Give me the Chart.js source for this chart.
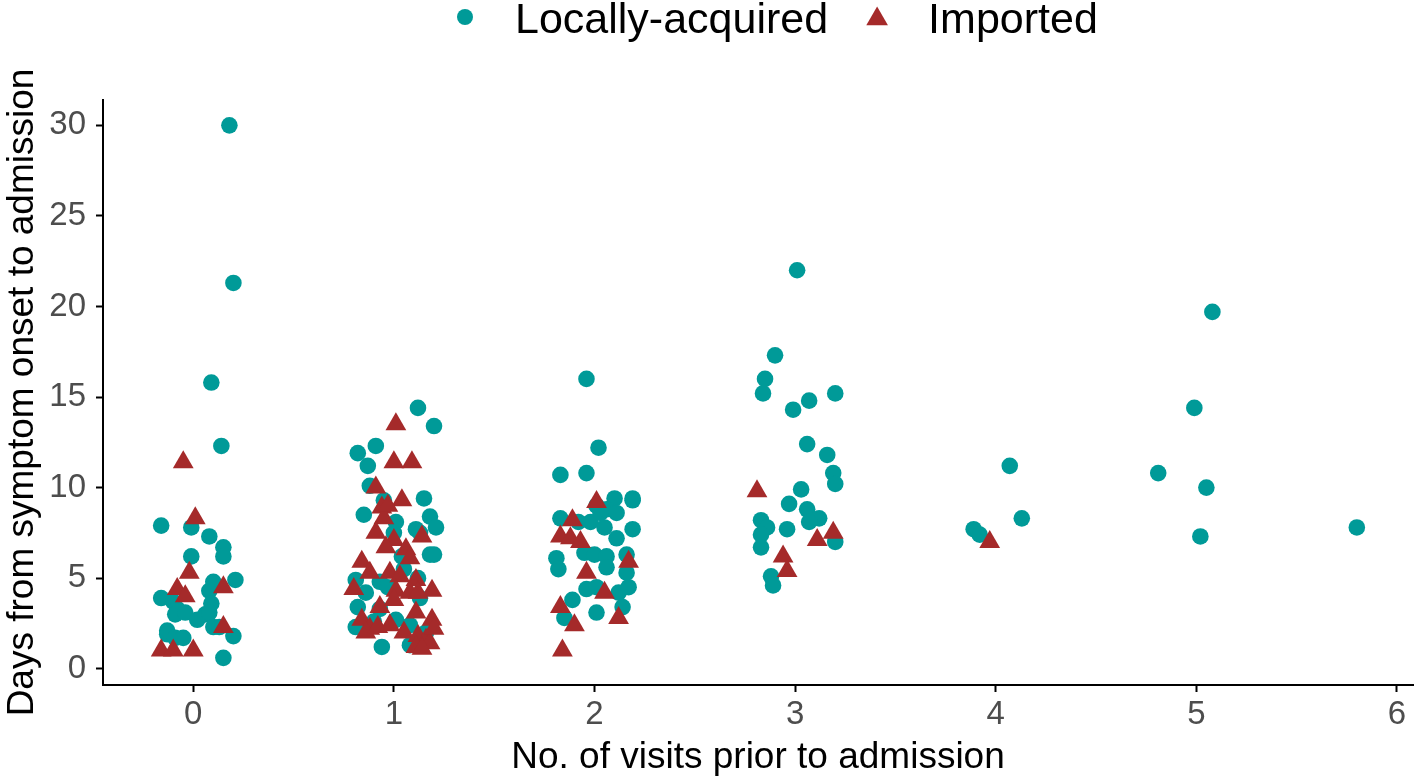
<!DOCTYPE html>
<html>
<head>
<meta charset="utf-8">
<script src="https://cdn.jsdelivr.net/npm/chart.js@4.4.1/dist/chart.umd.min.js"></script>
<style>
  html, body { margin: 0; padding: 0; background: #fff; }
  #wrap { width: 1416px; height: 780px; }
</style>
</head>
<body>
<div id="wrap"><canvas id="chart" width="1416" height="780"></canvas></div>
<script>
// series labels + tick labels
const seriesNames = ['Locally-acquired', 'Imported'];
const xTicks = [0, 1, 2, 3, 4, 5, 6];
const yTicks = [0, 5, 10, 15, 20, 25, 30];

// Locally-acquired: jittered visit count, days from onset
const localX = [
  0.18, 0.20, 0.09, 0.14, -0.16, -0.01, 0.08, 0.15, 0.15, -0.01, 0.21, 0.10, 0.08, 0.09, -0.16,
  -0.10, -0.08, -0.09, -0.04, 0.02, 0.06, 0.08, 0.10, 0.13, -0.13, -0.13, -0.09, -0.05, 0.20, 0.15,
  1.12, 1.20, 0.91, 0.82, 0.87, 0.88, 0.95, 1.15, 0.85, 1.18, 1.01, 1.11, 1.21, 1.13, 1.18,
  1.04, 0.81, 0.93, 0.86, 0.82, 0.93, 1.01, 0.81, 0.94, 1.08, 1.00, 1.05, 1.13, 0.97, 1.08,
  1.16, 0.90, 1.12, 1.20,
  1.96, 2.02, 1.83, 1.96, 2.10, 2.19, 2.01, 1.83, 1.92, 1.98, 2.03, 2.06, 2.11, 2.19, 2.05,
  2.11, 2.19, 1.81, 1.82, 1.95, 2.00, 2.06, 2.06, 2.16, 2.16, 1.96, 2.01, 2.12, 2.17, 2.14,
  2.01, 1.89, 1.85,
  3.01, 2.90, 2.85, 2.84, 2.99, 3.07, 3.20, 3.06, 3.16, 3.19, 3.20, 3.03, 2.97, 3.06, 3.12,
  3.07, 2.83, 2.86, 2.83, 2.96, 2.83, 3.20, 2.88, 2.89,
  4.07, 4.13, 3.89, 3.92,
  5.08, 4.99, 4.81, 5.05, 5.02, 5.80
];
const localY = [
  30.0, 21.3, 15.8, 12.3, 7.9, 7.8, 7.3, 6.7, 6.2, 6.2, 4.9, 4.8, 4.3, 3.6, 3.9,
  3.7, 3.3, 3.0, 3.1, 2.7, 3.0, 3.1, 2.3, 2.3, 2.1, 1.9, 1.7, 1.7, 1.8, 0.6,
  14.4, 13.4, 12.3, 11.9, 11.2, 10.1, 9.3, 9.4, 8.5, 8.4, 8.1, 7.7, 7.8, 7.5, 6.3,
  6.2, 4.9, 4.8, 4.2, 3.4, 3.3, 2.7, 2.3, 1.2, 1.3, 7.5, 5.5, 3.9, 4.5, 2.4,
  2.0, 2.6, 5.0, 6.3,
  16.0, 12.2, 10.7, 10.8, 9.4, 9.4, 9.0, 8.3, 8.1, 8.1, 8.6, 8.8, 8.6, 9.3, 7.8,
  7.2, 7.7, 6.1, 5.5, 6.4, 6.3, 6.2, 5.6, 6.3, 5.3, 4.4, 4.5, 4.2, 4.5, 3.4,
  3.1, 3.8, 2.8,
  22.0, 17.3, 16.0, 15.2, 14.3, 14.8, 15.2, 12.4, 11.8, 10.8, 10.2, 9.9, 9.1, 8.8, 8.3,
  8.1, 8.2, 7.8, 7.4, 7.7, 6.7, 7.0, 5.1, 4.6,
  11.2, 8.3, 7.7, 7.4,
  19.7, 14.4, 10.8, 10.0, 7.3, 7.8
];

// Imported
const importX = [
  -0.05, 0.01, -0.02, -0.08, -0.04, 0.15, 0.15, -0.16, -0.10, 0.00,
  1.01, 1.00, 1.09, 0.91, 1.04, 0.94, 0.95, 0.91, 1.00, 1.06, 1.14, 0.84, 0.88, 0.98, 1.03,
  1.11, 0.80, 1.19, 1.01, 1.08, 0.93, 0.84, 1.11, 1.19, 0.88, 1.05, 1.12, 1.16, 1.11, 1.18,
  0.86, 0.92, 0.98, 1.14, 1.20, 1.08, 0.96, 1.12, 1.00, 0.97,
  2.01, 1.89, 1.83, 1.88, 1.93, 2.17, 1.96, 2.05, 1.83, 2.12, 1.90, 1.84,
  2.81, 3.11, 3.19, 2.94, 2.96,
  3.97
];
const importY = [
  11.4, 8.3, 5.3, 4.4, 4.0, 4.5, 2.3, 1.0, 1.0, 1.0,
  13.5, 11.4, 11.4, 10.0, 9.3, 8.9, 8.3, 7.5, 7.1, 6.6, 7.3, 5.9, 5.3, 5.3, 5.1,
  4.9, 4.4, 4.3, 4.3, 4.2, 3.4, 2.7, 3.1, 2.7, 2.2, 2.0, 1.8, 1.6, 1.2, 1.4,
  2.0, 2.3, 2.4, 1.1, 2.2, 6.1, 6.7, 4.2, 3.8, 9.0,
  9.2, 8.2, 7.3, 7.2, 7.0, 5.9, 5.3, 4.2, 3.4, 2.8, 2.4, 1.0,
  9.8, 7.1, 7.5, 6.2, 5.4,
  7.0
];

const localColor = '#009a98';
const importColor = '#a52a2a';
const FONT = '"Liberation Sans", Arial, Helvetica, sans-serif';
Chart.defaults.font.family = FONT;

const toPts = (xs, ys) => xs.map((x, i) => ({ x: x, y: ys[i] }));

// legend drawn on top like the ggplot one
const topLegend = {
  id: 'topLegend',
  afterDraw(chart) {
    const c = chart.ctx;
    c.save();
    c.font = '43px ' + FONT;
    c.textBaseline = 'alphabetic';
    let x = 465;
    const cy = 17, base = 33;
    c.fillStyle = localColor;
    c.beginPath();
    c.arc(x, cy, 8, 0, Math.PI * 2);
    c.fill();
    c.fillStyle = '#000';
    c.fillText(seriesNames[0], x + 50, base);
    x = x + 50 + c.measureText(seriesNames[0]).width + 49;
    const r = 12.5;
    c.fillStyle = importColor;
    c.beginPath();
    c.moveTo(x, cy - r + 2);
    c.lineTo(x + r * 0.866, cy + r / 2 + 2);
    c.lineTo(x - r * 0.866, cy + r / 2 + 2);
    c.closePath();
    c.fill();
    c.fillStyle = '#000';
    c.fillText(seriesNames[1], x + 51, base);
    c.restore();
  }
};

new Chart(document.getElementById('chart'), {
  type: 'scatter',
  data: {
    datasets: [
      {
        label: seriesNames[1],
        data: toPts(importX, importY),
        pointStyle: 'triangle',
        pointRadius: 12,
        backgroundColor: importColor,
        borderWidth: 0
      },
      {
        label: seriesNames[0],
        data: toPts(localX, localY),
        pointStyle: 'circle',
        pointRadius: 8.3,
        backgroundColor: localColor,
        borderWidth: 0
      }
    ]
  },
  options: {
    responsive: false,
    animation: false,
    layout: { autoPadding: false, padding: { top: 100, right: 3, left: 0, bottom: 0 } },
    plugins: {
      legend: { display: false },
      tooltip: { enabled: false }
    },
    scales: {
      x: {
        type: 'linear',
        min: -0.45,
        max: 6.08,
        afterBuildTicks: s => { s.ticks = xTicks.map(v => ({ value: v })); },
        afterFit: s => { s.height = 95; s.paddingRight = 0; },
        ticks: { color: '#4d4d4d', font: { size: 33 }, padding: 3 },
        grid: { drawOnChartArea: false, tickColor: '#000', tickWidth: 2, tickLength: 7 },
        border: { color: '#000', width: 2 },
        title: {
          display: true,
          text: 'No. of visits prior to admission',
          color: '#000',
          font: { size: 37 },
          padding: { top: 0, bottom: 0 }
        }
      },
      y: {
        type: 'linear',
        min: -0.9,
        max: 31.4,
        afterBuildTicks: s => { s.ticks = yTicks.map(v => ({ value: v })); },
        afterFit: s => { s.width = 103; },
        ticks: { color: '#4d4d4d', font: { size: 33 }, padding: 10 },
        grid: { drawOnChartArea: false, tickColor: '#000', tickWidth: 2, tickLength: 7 },
        border: { color: '#000', width: 2 },
        title: {
          display: true,
          text: 'Days from symptom onset to admission',
          color: '#000',
          font: { size: 37 },
          padding: { top: 1, bottom: 0 }
        }
      }
    }
  },
  plugins: [topLegend]
});
</script>
</body>
</html>
